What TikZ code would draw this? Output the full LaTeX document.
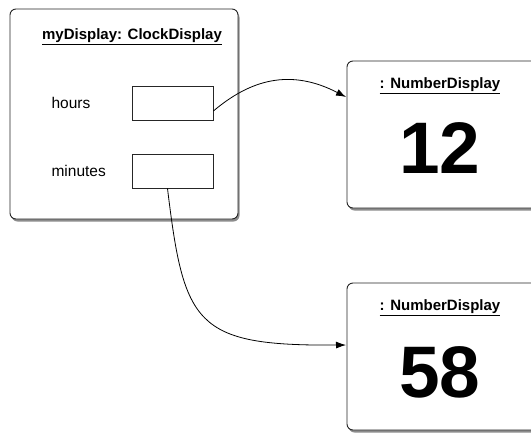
\documentclass[tikz,border=0pt]{standalone}
\usepackage{fontspec}
\setmainfont{Liberation Sans}
\usetikzlibrary{shadows,arrows.meta}
\begin{document}
\begin{tikzpicture}[x=1pt,y=-1pt,
  objbox/.style={draw=black!85, line width=0.9pt, fill=white, rounded corners=6pt,
    drop shadow={shadow xshift=1.5pt, shadow yshift=-2.5pt, opacity=0.45, fill=black}},
  fieldbox/.style={draw=black!85, line width=0.8pt, fill=white, minimum width=81pt, minimum height=34pt, inner sep=0pt},
  objtitle/.style={font=\bfseries\fontsize{15}{18}\selectfont},
  numtitle/.style={font=\bfseries\fontsize{15}{18}\selectfont},
  fieldlbl/.style={font=\fontsize{15.5}{18}\selectfont, anchor=west},
  bignum/.style={font=\bfseries\fontsize{73}{80}\selectfont},
  ref/.style={line width=0.8pt, -{Latex[length=10pt,width=7pt]}}
]
\useasboundingbox (0,0) rectangle (531,432);
\clip (0,0) rectangle (531,432);
% outer object
\draw[objbox] (10,9) rectangle (238,219);
\node[objtitle] (t1) at (132,37) {\underline{myDisplay: ClockDisplay}};
\node[fieldlbl] (lh) at (48,103) {hours};
\node[fieldlbl] (lm) at (48,171) {minutes};
\node[fieldbox] (hb) at (172.5,103) {};
\node[fieldbox] (mb) at (172.5,171) {};
% number displays
\draw[objbox] (347,61) rectangle (545,208);
\node[numtitle] (n1t) at (440,86) {\underline{: NumberDisplay}};
\node[bignum] (n1) at (440,148) {12};
\draw[objbox] (347,283) rectangle (545,430);
\node[numtitle] (n2t) at (440,308) {\underline{: NumberDisplay}};
\node[bignum] (n2) at (440,372) {58};
\coordinate (a1) at (346,97);
\coordinate (a2) at (346,345);
% references
\draw[ref] ([yshift=-8pt]hb.east) .. controls (250,80) and (290,68) .. (a1);
\draw[ref] ([xshift=-5pt]mb.south) .. controls (184,325) and (195,346) .. (a2);
\end{tikzpicture}
\end{document}
